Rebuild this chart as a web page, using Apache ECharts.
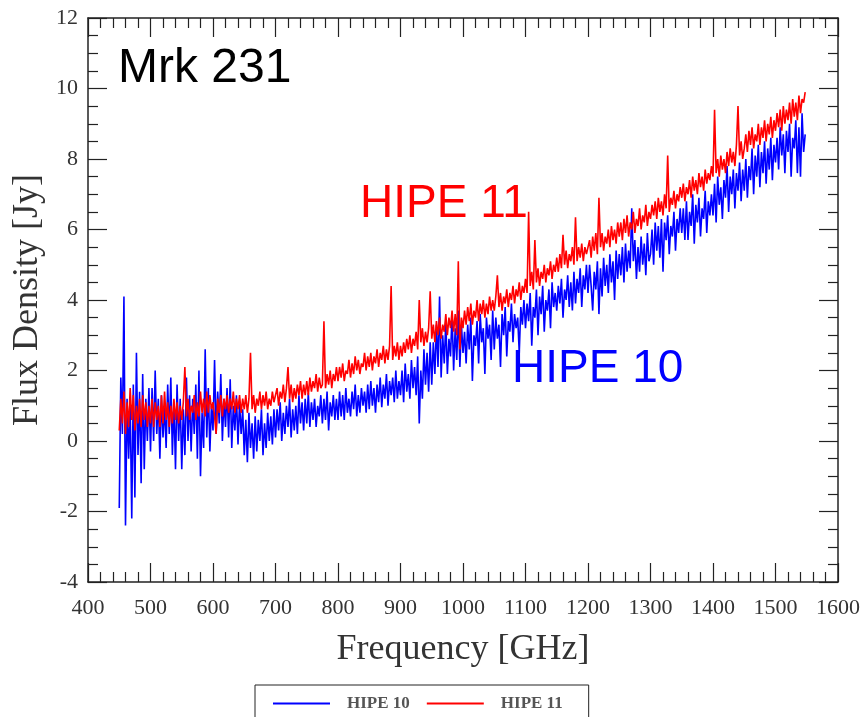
<!DOCTYPE html>
<html>
<head>
<meta charset="utf-8">
<script src="https://cdn.jsdelivr.net/npm/echarts@6/dist/echarts.min.js"></script>
<style>
html,body{margin:0;padding:0;background:#fff;}
#chart{width:865px;height:717px;}
</style>
</head>
<body>
<div id="chart"></div>
<script>
// Frequency grid (GHz), one row = 50 GHz
var freq = [
 450,452.5,455,457.5,460,462.5,465,467.5,470,472.5,475,477.5,480,482.5,485,487.5,490,492.5,495,497.5,
 500,502.5,505,507.5,510,512.5,515,517.5,520,522.5,525,527.5,530,532.5,535,537.5,540,542.5,545,547.5,
 550,552.5,555,557.5,560,562.5,565,567.5,570,572.5,575,577.5,580,582.5,585,587.5,590,592.5,595,597.5,
 600,602.5,605,607.5,610,612.5,615,617.5,620,622.5,625,627.5,630,632.5,635,637.5,640,642.5,645,647.5,
 650,652.5,655,657.5,660,662.5,665,667.5,670,672.5,675,677.5,680,682.5,685,687.5,690,692.5,695,697.5,
 700,702.5,705,707.5,710,712.5,715,717.5,720,722.5,725,727.5,730,732.5,735,737.5,740,742.5,745,747.5,
 750,752.5,755,757.5,760,762.5,765,767.5,770,772.5,775,777.5,780,782.5,785,787.5,790,792.5,795,797.5,
 800,802.5,805,807.5,810,812.5,815,817.5,820,822.5,825,827.5,830,832.5,835,837.5,840,842.5,845,847.5,
 850,852.5,855,857.5,860,862.5,865,867.5,870,872.5,875,877.5,880,882.5,885,887.5,890,892.5,895,897.5,
 900,902.5,905,907.5,910,912.5,915,917.5,920,922.5,925,927.5,930,932.5,935,937.5,940,942.5,945,947.5,
 950,952.5,955,957.5,960,962.5,965,967.5,970,972.5,975,977.5,980,982.5,985,987.5,990,992.5,995,997.5,
 1000,1002.5,1005,1007.5,1010,1012.5,1015,1017.5,1020,1022.5,1025,1027.5,1030,1032.5,1035,1037.5,1040,1042.5,1045,1047.5,
 1050,1052.5,1055,1057.5,1060,1062.5,1065,1067.5,1070,1072.5,1075,1077.5,1080,1082.5,1085,1087.5,1090,1092.5,1095,1097.5,
 1100,1102.5,1105,1107.5,1110,1112.5,1115,1117.5,1120,1122.5,1125,1127.5,1130,1132.5,1135,1137.5,1140,1142.5,1145,1147.5,
 1150,1152.5,1155,1157.5,1160,1162.5,1165,1167.5,1170,1172.5,1175,1177.5,1180,1182.5,1185,1187.5,1190,1192.5,1195,1197.5,
 1200,1202.5,1205,1207.5,1210,1212.5,1215,1217.5,1220,1222.5,1225,1227.5,1230,1232.5,1235,1237.5,1240,1242.5,1245,1247.5,
 1250,1252.5,1255,1257.5,1260,1262.5,1265,1267.5,1270,1272.5,1275,1277.5,1280,1282.5,1285,1287.5,1290,1292.5,1295,1297.5,
 1300,1302.5,1305,1307.5,1310,1312.5,1315,1317.5,1320,1322.5,1325,1327.5,1330,1332.5,1335,1337.5,1340,1342.5,1345,1347.5,
 1350,1352.5,1355,1357.5,1360,1362.5,1365,1367.5,1370,1372.5,1375,1377.5,1380,1382.5,1385,1387.5,1390,1392.5,1395,1397.5,
 1400,1402.5,1405,1407.5,1410,1412.5,1415,1417.5,1420,1422.5,1425,1427.5,1430,1432.5,1435,1437.5,1440,1442.5,1445,1447.5,
 1450,1452.5,1455,1457.5,1460,1462.5,1465,1467.5,1470,1472.5,1475,1477.5,1480,1482.5,1485,1487.5,1490,1492.5,1495,1497.5,
 1500,1502.5,1505,1507.5,1510,1512.5,1515,1517.5,1520,1522.5,1525,1527.5,1530,1532.5,1535,1537.5,1540,1542.5,1545,1547.5
];

// HIPE 10 flux density (Jy)
var hipe10 = [
 -1.9,1.8,0.2,4.1,-2.4,1.2,-0.5,1.0,-2.2,1.6,-1.6,2.5,-0.4,1.4,-1.2,1.9,-0.8,1.2,0.0,1.5,
 -0.3,1.5,0.0,2.0,0.2,1.2,-0.5,1.3,0.1,1.0,-0.2,1.6,0.2,1.8,-0.4,1.1,-0.8,1.6,0.0,1.2,
 -0.8,0.9,-0.4,1.8,0.0,1.3,-0.3,1.2,0.2,1.6,-0.5,2.0,-1.0,0.8,-0.2,2.6,0.1,1.5,-0.3,1.0,
 0.3,2.3,0.2,1.4,0.5,1.9,0.0,1.2,0.4,1.5,0.1,1.75,-0.2,1.0,0.3,1.3,-0.1,1.1,0.2,0.9,
 -0.4,0.6,-0.6,0.8,-0.2,0.5,-0.5,0.7,-0.3,0.6,0.0,0.9,-0.4,0.5,-0.2,0.8,0.0,0.7,-0.1,0.9,
 0.1,0.9,0.3,1.1,0.0,0.8,0.2,1.0,0.4,1.2,0.1,0.9,0.3,1.0,0.2,1.3,0.5,1.1,0.3,1.2,
 0.5,1.36,0.4,1.1,0.6,1.2,0.4,1.0,0.7,1.3,0.5,1.2,0.6,1.4,0.3,1.1,0.7,1.3,0.6,1.2,
 0.6,1.4,0.7,1.3,0.6,1.5,0.8,1.2,0.7,1.4,0.9,1.6,0.7,1.3,0.8,1.5,1.0,1.4,0.8,1.6,
 0.9,1.7,1.0,1.5,0.8,1.6,1.1,1.8,0.96,1.6,1.2,1.9,1.0,1.7,1.3,1.8,1.1,2.0,1.2,1.7,
 1.3,2.0,1.1,2.2,1.4,1.9,1.2,2.3,1.5,2.1,1.3,2.4,0.5,2.0,1.2,2.6,1.6,2.5,1.4,2.8,
 1.6,2.8,1.9,3.3,2.1,4.1,1.8,3.0,2.2,3.4,1.9,2.9,2.4,3.6,2.0,3.2,2.3,3.7,2.1,3.3,
 2.5,3.1,2.2,3.3,2.6,3.5,1.7,3.0,2.7,3.4,2.2,3.6,2.8,3.2,1.9,3.5,2.9,3.3,2.3,3.7,
 2.6,3.5,2.9,3.3,2.1,3.6,3.0,3.8,2.4,3.4,3.1,3.9,2.8,3.6,3.2,3.5,2.5,3.8,3.3,4.0,
 3.2,3.9,3.4,4.2,2.7,3.8,3.5,4.3,3.0,4.1,3.6,4.4,3.1,4.0,3.7,4.3,3.2,4.5,3.8,4.2,
 3.7,4.4,3.9,4.6,3.5,4.3,4.0,4.7,3.8,4.5,3.7,4.8,3.9,4.6,4.2,4.9,3.8,4.7,4.3,5.0,
 4.2,5.0,4.4,3.7,4.8,4.3,5.1,3.6,4.9,4.1,5.2,4.4,5.0,4.2,5.3,4.5,5.1,4.0,5.4,4.6,
 5.3,4.7,5.5,4.5,5.6,4.8,5.4,4.9,6.6,5.1,5.7,4.6,5.5,4.8,5.8,5.0,5.6,4.7,5.9,5.1,
 5.3,6.0,5.0,6.2,5.4,6.1,5.2,6.3,4.8,6.2,5.7,6.4,5.3,6.1,5.8,6.5,5.4,6.3,5.9,6.6,
 5.9,6.6,5.7,6.8,5.7,6.5,6.1,7.0,5.6,6.7,6.2,6.9,5.8,6.6,6.3,7.1,5.9,6.8,6.4,7.0,
 6.4,7.3,6.2,7.5,6.7,7.2,6.3,7.4,6.9,7.8,6.5,7.5,7.0,7.7,6.6,7.6,7.1,7.9,6.8,7.7,
 7.1,8.0,6.9,7.8,7.4,8.3,7.0,8.1,7.5,8.4,7.2,8.2,7.6,8.5,7.3,8.3,7.7,8.6,7.4,8.4,
 7.9,8.6,7.7,8.9,8.1,8.7,7.6,8.8,8.2,9.0,7.5,8.6,8.3,9.1,7.6,8.9,7.5,9.3,8.2,8.7
];

// HIPE 11 flux density (Jy)
var hipe11 = [
 0.3,1.2,0.5,1.4,0.2,1.1,0.4,1.5,0.6,1.3,0.3,1.0,0.5,1.2,0.4,1.3,0.6,1.1,0.4,1.0,
 0.5,1.2,0.4,1.1,0.6,1.0,0.4,1.3,0.5,1.4,0.6,1.1,0.4,1.0,0.5,1.2,0.6,1.1,0.5,1.0,
 0.6,1.1,2.1,0.7,1.2,0.6,1.0,0.8,1.3,0.6,1.1,0.7,1.4,0.8,1.2,0.7,1.4,0.8,1.3,0.9,
 1.1,0.7,0.2,1.2,0.8,1.3,0.7,1.2,0.9,1.3,0.8,1.2,0.9,1.4,0.8,1.2,0.9,1.3,0.8,1.2,
 0.9,1.3,0.8,1.2,2.5,0.9,1.3,0.8,1.2,1.0,1.4,0.9,1.3,1.0,1.4,0.9,1.2,1.0,1.4,1.1,
 1.1,1.5,1.0,1.4,1.2,1.6,1.1,1.5,2.1,1.2,1.6,1.1,1.5,1.2,1.6,1.3,1.7,1.2,1.6,1.3,
 1.7,1.3,1.8,1.4,1.7,1.5,1.9,1.4,1.8,1.5,1.6,3.4,1.5,1.9,1.6,2.0,1.5,1.9,1.7,2.1,
 1.7,2.1,1.8,2.2,1.7,2.0,1.9,2.3,1.8,2.2,1.9,2.4,2.0,2.3,1.9,2.2,2.1,2.5,2.0,2.4,
 2.1,2.5,2.0,2.4,2.2,2.6,2.1,2.5,2.3,2.7,2.2,2.6,2.3,2.7,4.4,2.3,2.7,2.4,2.8,2.3,
 2.7,2.4,2.8,2.5,2.9,2.6,3.0,2.5,2.9,2.7,3.1,2.6,4.0,2.8,3.2,2.7,3.1,2.8,3.2,4.25,
 2.9,3.3,2.8,3.4,3.0,3.5,2.9,3.3,3.1,3.6,3.0,3.5,3.2,3.7,3.1,3.6,3.0,5.1,2.6,3.5,
 3.2,3.7,3.3,3.8,3.4,3.9,3.3,3.7,3.5,4.0,3.4,3.9,3.6,4.0,3.5,3.9,3.6,4.1,3.7,4.0,
 3.7,4.1,4.7,3.8,4.2,3.7,4.1,3.9,4.3,3.8,4.2,4.0,4.4,3.9,4.3,4.1,4.5,4.0,4.4,4.2,
 4.6,4.2,6.5,4.4,4.8,4.3,5.7,4.5,4.9,4.4,4.8,4.6,5.0,4.5,4.9,4.7,5.1,4.6,5.0,4.8,
 5.2,4.8,5.3,4.9,5.85,5.0,5.4,4.9,5.3,5.1,5.5,5.0,6.35,5.1,5.5,5.2,5.6,5.1,5.5,5.3,
 5.3,5.7,5.2,5.8,5.4,5.9,5.3,6.9,5.5,5.9,5.4,5.8,5.6,6.0,5.5,6.1,5.7,6.0,5.6,6.2,
 5.8,6.2,5.7,6.3,5.9,6.4,5.8,6.2,6.0,6.5,5.9,6.3,6.1,6.6,6.0,6.4,6.2,6.7,6.1,6.5,
 6.3,6.7,6.4,6.8,6.3,6.9,6.5,6.8,6.4,7.0,6.6,8.1,6.5,6.9,6.7,7.1,6.6,7.0,6.8,7.2,
 6.9,7.3,6.8,7.2,7.0,7.4,6.9,7.5,7.1,7.4,7.0,7.6,7.2,7.5,7.1,7.7,7.3,7.6,7.4,7.8,
 7.5,9.4,7.6,8.0,7.5,8.1,7.7,8.0,7.6,8.2,7.8,8.3,7.9,8.2,7.8,8.4,9.5,8.1,8.5,8.0,
 8.3,8.7,8.2,8.8,8.4,8.9,8.3,8.7,8.5,9.0,8.4,8.9,8.6,9.1,8.5,9.0,8.7,9.2,8.6,9.1,
 8.8,9.3,8.9,9.4,8.8,9.5,9.0,9.4,9.1,9.6,9.0,9.7,9.2,9.6,9.1,9.8,9.3,9.7,9.6,9.9
];

var seriesNames = ['HIPE 10', 'HIPE 11'];
var xTitle = 'Frequency [GHz]';
var yTitle = 'Flux Density [Jy]';
var objectLabel = 'Mrk 231';

function pairs(v) {
  var out = [];
  for (var i = 0; i < freq.length; i++) out.push([freq[i], v[i]]);
  return out;
}

var serif = '"Liberation Serif", "Times New Roman", serif';
var sans = '"Liberation Sans", Arial, sans-serif';
var axisColor = '#222';

function makeX(pos, showLabel) {
  return {
    type: 'value', gridIndex: 0, position: pos,
    min: 400, max: 1600, interval: 100,
    axisLine: { onZero: false, lineStyle: { color: axisColor, width: 1.5 } },
    axisTick: { inside: true, length: 19, lineStyle: { color: axisColor, width: 1.2 } },
    minorTick: { show: true, splitNumber: 5, length: 10, lineStyle: { color: axisColor, width: 1.2 } },
    splitLine: { show: false },
    minorSplitLine: { show: false },
    axisLabel: { show: showLabel, fontFamily: serif, fontSize: 22, color: '#333', margin: 15,
                 formatter: function (v) { return String(v); } },
    name: showLabel ? xTitle : '',
    nameLocation: 'middle', nameGap: 50,
    nameTextStyle: { fontFamily: serif, fontSize: 36, color: '#333' }
  };
}
function makeY(pos, showLabel) {
  return {
    type: 'value', gridIndex: 0, position: pos,
    min: -4, max: 12, interval: 2,
    axisLine: { onZero: false, lineStyle: { color: axisColor, width: 1.5 } },
    axisTick: { inside: true, length: 19, lineStyle: { color: axisColor, width: 1.2 } },
    minorTick: { show: true, splitNumber: 4, length: 10, lineStyle: { color: axisColor, width: 1.2 } },
    splitLine: { show: false },
    minorSplitLine: { show: false },
    axisLabel: { show: showLabel, fontFamily: serif, fontSize: 22, color: '#333', margin: 10,
                 formatter: function (v) { return String(v); } },
    name: showLabel ? yTitle : '',
    nameLocation: 'middle', nameGap: 40,
    nameTextStyle: { fontFamily: serif, fontSize: 36, color: '#333' }
  };
}

var chart = echarts.init(document.getElementById('chart'), null, { renderer: 'canvas' });
chart.setOption({
  animation: false,
  backgroundColor: '#ffffff',
  grid: { left: 88, right: 27, top: 18, bottom: 135 },
  xAxis: [makeX('bottom', true), makeX('top', false)],
  yAxis: [makeY('left', true), makeY('right', false)],
  legend: {
    left: 255, top: 685,
    icon: 'rect', itemWidth: 57, itemHeight: 2, itemGap: 17,
    padding: [10, 26, 40, 18],
    borderColor: '#222', borderWidth: 1,
    textStyle: { fontFamily: serif, fontSize: 17, fontWeight: 'bold', color: '#555', padding: [0, 0, 0, 12] },
    data: seriesNames
  },
  graphic: [
    { type: 'text', x: 118, y: 69, style: { text: objectLabel, font: '48px ' + sans, fill: '#000', verticalAlign: 'middle' } },
    { type: 'text', x: 360, y: 204, style: { text: seriesNames[1], font: '46px ' + sans, fill: '#ff0000', verticalAlign: 'middle' } },
    { type: 'text', x: 512, y: 369, style: { text: seriesNames[0], font: '46px ' + sans, fill: '#0000ff', verticalAlign: 'middle' } }
  ],
  series: [
    { name: seriesNames[0], type: 'line', xAxisIndex: 0, yAxisIndex: 0, data: pairs(hipe10),
      showSymbol: false, symbol: 'none', sampling: null, lineStyle: { color: '#0000ff', width: 1.6 }, itemStyle: { color: '#0000ff' } },
    { name: seriesNames[1], type: 'line', xAxisIndex: 0, yAxisIndex: 0, data: pairs(hipe11),
      showSymbol: false, symbol: 'none', sampling: null, lineStyle: { color: '#ff0000', width: 1.6 }, itemStyle: { color: '#ff0000' } }
  ]
});
</script>
</body>
</html>
